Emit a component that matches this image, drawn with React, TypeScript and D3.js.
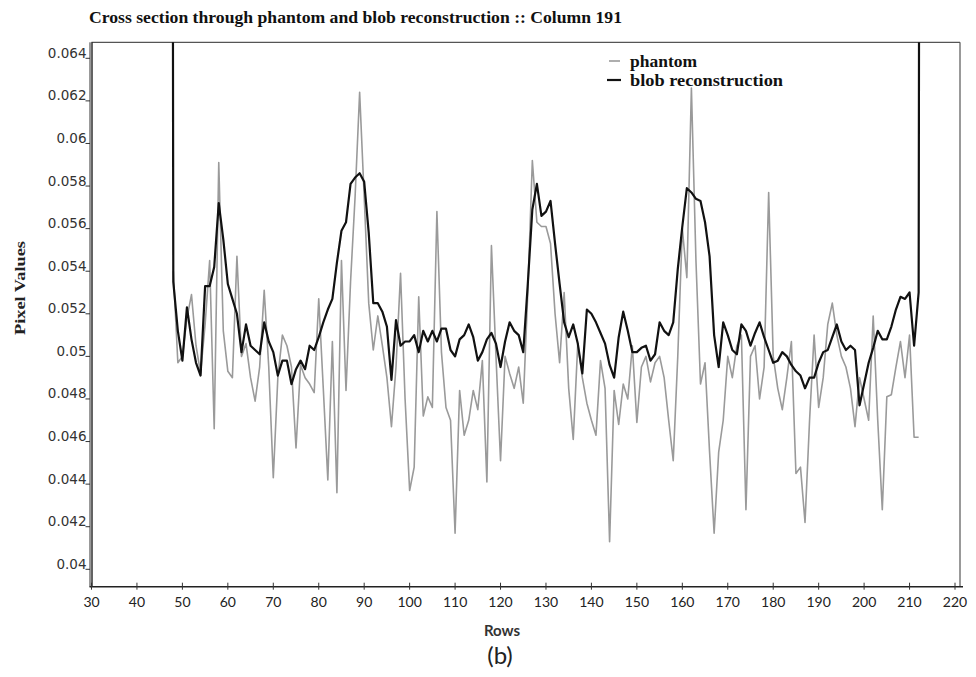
import React from "react";
import * as d3 from "d3";

// Cross-section profile along column 191
const blobFirstRow = 47;
const blobValues = [
  0.2, 0.0535, 0.0512, 0.0498, 0.0523, 0.0508, 0.0497, 0.0491, 0.0533, 0.0533,
  0.0542, 0.0572, 0.0555, 0.0534, 0.0527, 0.052, 0.0502, 0.0515, 0.0505, 0.0503,
  0.0501, 0.0516, 0.0507, 0.0502, 0.0491, 0.0498, 0.0498, 0.0487, 0.0494, 0.0498,
  0.0494, 0.0505, 0.0503, 0.0509, 0.0516, 0.0522, 0.0527, 0.0544, 0.0559, 0.0563,
  0.0581, 0.0584, 0.0586, 0.0582, 0.0558, 0.0525, 0.0525, 0.0521, 0.0514, 0.0489,
  0.0517, 0.0505, 0.0507, 0.0507, 0.051, 0.0502, 0.0512, 0.0507, 0.0512, 0.0507,
  0.0513, 0.0513, 0.0503, 0.05, 0.0508, 0.051, 0.0515, 0.0509, 0.0498, 0.0502,
  0.0508, 0.0511, 0.0506, 0.0495, 0.0507, 0.0516, 0.0512, 0.051, 0.0502, 0.0534,
  0.0569, 0.0581, 0.0566, 0.0568, 0.0573, 0.0553, 0.0534, 0.0516, 0.0509, 0.0515,
  0.0506, 0.0492, 0.0522, 0.052, 0.0516, 0.0511, 0.0506, 0.0496, 0.049, 0.0509,
  0.0521, 0.0512, 0.0502, 0.0502, 0.0504, 0.0505, 0.0498, 0.0501, 0.0516, 0.0512,
  0.051, 0.0516, 0.0541, 0.0561, 0.0579, 0.0577, 0.0574, 0.0573, 0.0563, 0.0547,
  0.051, 0.0495, 0.0516, 0.051, 0.0503, 0.0501, 0.0515, 0.0512, 0.0505, 0.0511,
  0.0516, 0.0509, 0.0503, 0.0497, 0.0498, 0.0502, 0.05, 0.0496, 0.0493, 0.0491,
  0.0485, 0.049, 0.049, 0.0497, 0.0502, 0.0503, 0.0509, 0.0515, 0.0507, 0.0503,
  0.0505, 0.0503, 0.0477, 0.0487, 0.0497, 0.0504, 0.0512, 0.0508, 0.0508, 0.0514,
  0.0522, 0.0528, 0.0527, 0.053, 0.0505, 0.053, 0.2,
];

const phantomFirstRow = 48;
const phantomValues = [
  0.054, 0.0497, 0.05, 0.0518, 0.0529, 0.0505, 0.0492, 0.0515, 0.0545, 0.0466,
  0.0591, 0.0512, 0.0493, 0.049, 0.0547, 0.05, 0.0506, 0.049, 0.0479, 0.0495,
  0.0531, 0.0495, 0.0443, 0.049, 0.051, 0.0505, 0.0495, 0.0457, 0.0496, 0.049,
  0.0487, 0.0483, 0.0527, 0.0485, 0.0442, 0.0507, 0.0436, 0.0545, 0.0484, 0.0535,
  0.0575, 0.0624, 0.0575, 0.0525, 0.0503, 0.0519, 0.0505, 0.049, 0.0467, 0.0495,
  0.0539, 0.048, 0.0437, 0.0448, 0.0528, 0.0472, 0.0481, 0.0476, 0.0568, 0.0502,
  0.0476, 0.047, 0.0417, 0.0484, 0.0463, 0.047, 0.0484, 0.0475, 0.0498, 0.0441,
  0.0552, 0.05, 0.0451, 0.05, 0.0492, 0.0485, 0.0495, 0.0478, 0.053, 0.0592,
  0.0563, 0.0561, 0.0561, 0.0553, 0.052, 0.0497, 0.053, 0.0485, 0.0461, 0.0506,
  0.049, 0.0478, 0.047, 0.0463, 0.0498, 0.0485, 0.0413, 0.0484, 0.0468, 0.0487,
  0.048, 0.0505, 0.0469, 0.0495, 0.05, 0.0488, 0.0497, 0.05, 0.049, 0.047,
  0.0451, 0.05, 0.056, 0.0537, 0.0626, 0.0545, 0.0487, 0.0497, 0.0455, 0.0417,
  0.0455, 0.047, 0.05, 0.049, 0.0505, 0.051, 0.0428, 0.05, 0.0505, 0.048,
  0.0495, 0.0577, 0.05, 0.0485, 0.0475, 0.049, 0.0507, 0.0445, 0.0448, 0.0422,
  0.047, 0.051, 0.0476, 0.049, 0.0515, 0.0525, 0.051, 0.05, 0.0495, 0.0485,
  0.0467, 0.049, 0.048, 0.047, 0.0519, 0.047, 0.0428, 0.0481, 0.0482, 0.0495,
  0.0507, 0.049, 0.051, 0.0462, 0.0462,
];

const xTicks = [30, 40, 50, 60, 70, 80, 90, 100, 110, 120, 130, 140, 150, 160, 170, 180, 190, 200, 210, 220];
const yTicks = [0.04, 0.042, 0.044, 0.046, 0.048, 0.05, 0.052, 0.054, 0.056, 0.058, 0.06, 0.062, 0.064];

const titleText = "Cross section through phantom and blob reconstruction :: Column 191";
const seriesNames = ["phantom", "blob reconstruction"];

const W = 976;
const H = 677;
const plot = { left: 91.5, right: 960, top: 42.3, bottom: 586.7 };

export default function App() {
  const x = d3.scaleLinear().domain([30, 220]).range([plot.left, 955]);
  const y = d3.scaleLinear().domain([0.04, 0.064]).range([569.3, 58.3]);

  const toPts = (first: number, vals: number[]) =>
    vals.map((v, i) => [first + i, v] as [number, number]);

  const line = d3
    .line<[number, number]>()
    .x((d) => x(d[0]))
    .y((d) => y(d[1]));

  const phantomPath = line(toPts(phantomFirstRow, phantomValues)) || "";
  const blobPath = line(toPts(blobFirstRow, blobValues)) || "";

  const serif = "'Liberation Serif', 'DejaVu Serif', serif";
  const sans = "'DejaVu Sans', sans-serif";
  const humanist = "Lato, 'Open Sans', sans-serif";

  return (
    <svg
      width={W}
      height={H}
      viewBox={`0 0 ${W} ${H}`}
      style={{ position: "absolute", left: 0, top: 0, background: "#fff" }}
    >
      <defs>
        <clipPath id="plotClip">
          <rect
            x={plot.left}
            y={plot.top}
            width={plot.right - plot.left}
            height={plot.bottom - plot.top}
          />
        </clipPath>
      </defs>
      <rect x={0} y={0} width={W} height={H} fill="#fff" />

      {/* title */}
      <text
        x={89}
        y={23}
        fontFamily={serif}
        fontWeight="bold"
        fontSize={16.5}
        fill="#111"
        textLength={533}
        lengthAdjust="spacingAndGlyphs"
      >
        {titleText}
      </text>

      {/* frame */}
      <line x1={plot.left} x2={plot.right} y1={plot.top} y2={plot.top} stroke="#555" strokeWidth={1.2} />
      <line x1={plot.right} x2={plot.right} y1={plot.top} y2={plot.bottom} stroke="#555" strokeWidth={1.2} />

      {/* series */}
      <g clipPath="url(#plotClip)">
        <path d={phantomPath} fill="none" stroke="#9a9a9a" strokeWidth={1.6} strokeLinejoin="round" />
        <path d={blobPath} fill="none" stroke="#111" strokeWidth={2.2} strokeLinejoin="round" />
      </g>

      {/* axes */}
      <line x1={plot.left - 1.5} x2={plot.left - 1.5} y1={plot.top} y2={plot.bottom} stroke="#333" strokeWidth={1} />
      <line x1={plot.left + 0.5} x2={plot.left + 0.5} y1={plot.top} y2={plot.bottom} stroke="#222" strokeWidth={1.4} />
      <line x1={plot.left - 2} x2={plot.right + 3} y1={plot.bottom} y2={plot.bottom} stroke="#222" strokeWidth={1.4} />

      {yTicks.map((t) => (
        <g key={"y" + t}>
          <line x1={plot.left - 6} x2={plot.left - 1.5} y1={y(t)} y2={y(t)} stroke="#333" strokeWidth={1} />
          <text
            x={plot.left - 5}
            y={y(t) - 0.5}
            textAnchor="end"
            fontFamily={sans}
            fontSize={13.5}
            fill="#333"
          >
            {String(t)}
          </text>
        </g>
      ))}

      {xTicks.map((t) => (
        <g key={"x" + t}>
          <line x1={x(t)} x2={x(t)} y1={plot.bottom - 4} y2={plot.bottom + 3} stroke="#333" strokeWidth={1} />
          <text
            x={x(t)}
            y={607}
            textAnchor="middle"
            fontFamily={humanist}
            fontSize={14}
            fill="#222"
          >
            {t}
          </text>
        </g>
      ))}

      {/* axis titles */}
      <text x={502} y={636} textAnchor="middle" fontFamily={humanist} fontWeight="bold" fontSize={15} fill="#333">
        Rows
      </text>
      <text
        transform="translate(25,288) rotate(-90)"
        textAnchor="middle"
        fontFamily={serif}
        fontWeight="bold"
        fontSize={15}
        fill="#222"
        textLength={94}
        lengthAdjust="spacingAndGlyphs"
      >
        Pixel Values
      </text>
      <text x={500} y={664} textAnchor="middle" fontFamily={humanist} fontSize={24} fill="#222">
        (b)
      </text>

      {/* legend */}
      <line x1={609} x2={620} y1={61} y2={61} stroke="#9a9a9a" strokeWidth={1.6} />
      <text
        x={630}
        y={67}
        fontFamily={serif}
        fontWeight="bold"
        fontSize={16.5}
        fill="#111"
        textLength={67}
        lengthAdjust="spacingAndGlyphs"
      >
        {seriesNames[0]}
      </text>
      <line x1={607} x2={621} y1={80} y2={80} stroke="#111" strokeWidth={2.2} />
      <text
        x={630}
        y={86}
        fontFamily={serif}
        fontWeight="bold"
        fontSize={16.5}
        fill="#111"
        textLength={153}
        lengthAdjust="spacingAndGlyphs"
      >
        {seriesNames[1]}
      </text>
    </svg>
  );
}
